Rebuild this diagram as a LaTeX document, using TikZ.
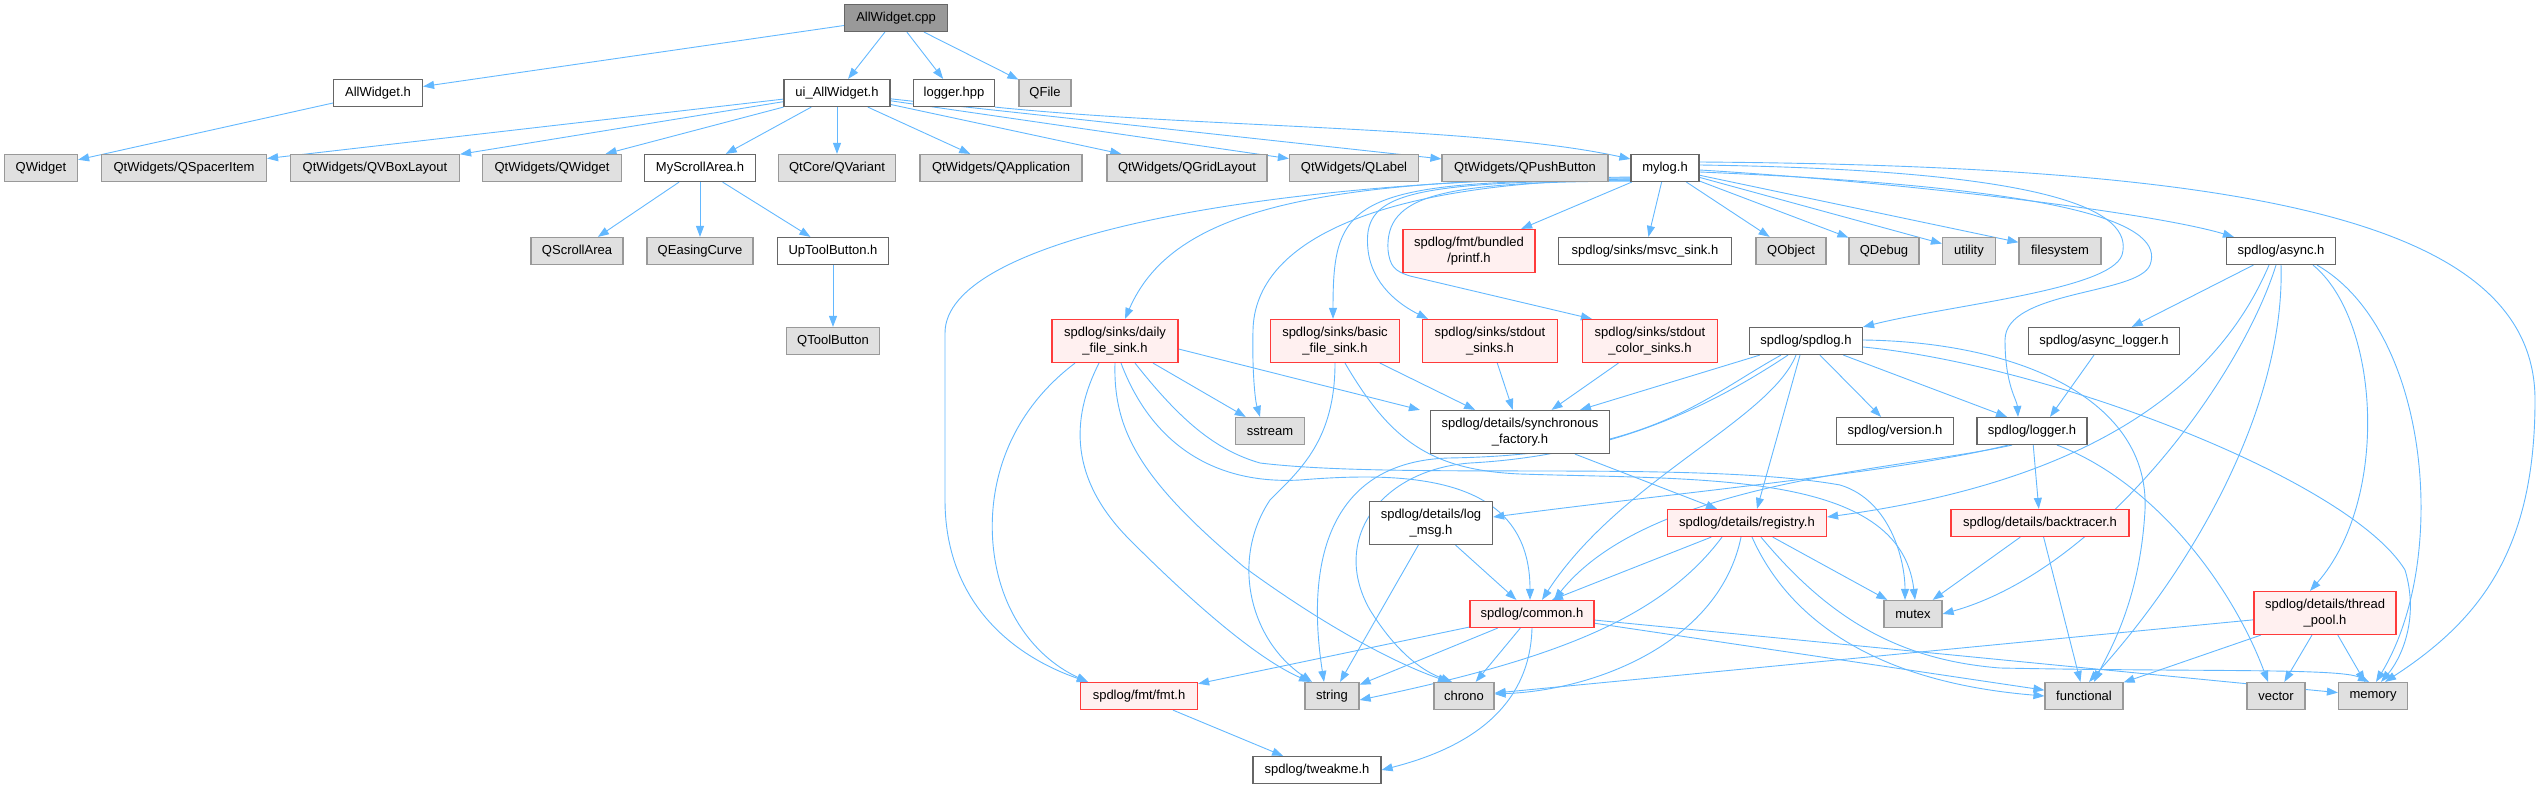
\documentclass[tikz,border=0pt]{standalone}
\usepackage{fontspec}
\setmainfont{Liberation Sans}
\usetikzlibrary{arrows.meta}
\definecolor{edgec}{HTML}{63B8FF}
\definecolor{wborder}{HTML}{666666}
\definecolor{gfill}{HTML}{E0E0E0}
\definecolor{gborder}{HTML}{999999}
\definecolor{rfill}{HTML}{FFF0F0}
\definecolor{rborder}{HTML}{FF3B3B}
\definecolor{mfill}{HTML}{999999}
\pgfdeclarelayer{bg}
\pgfsetlayers{bg,main}
\tikzset{
 nbox/.style={rectangle, inner sep=0pt, minimum height=27pt, align=center, font=\fontsize{13}{16}\selectfont, line width=1.2pt},
 wn/.style={nbox, fill=white, draw=wborder},
 gn/.style={nbox, fill=gfill, draw=gborder},
 rn/.style={nbox, fill=rfill, draw=rborder},
 mn/.style={nbox, fill=mfill, draw=wborder},
 tall/.style={minimum height=43pt},
 e/.style={draw=edgec, line width=0.9pt, -{Triangle[length=11pt,width=8pt]}},
}
\begin{document}
\begin{tikzpicture}[x=1pt,y=-1pt]
\useasboundingbox (0,0) rectangle (2540,789);
% row 0-1
\node[mn, minimum width=103pt] (cpp) at (896,18) {AllWidget.cpp};
\node[wn, minimum width=89pt] (aw) at (378,93) {AllWidget.h};
\node[wn, minimum width=106pt] (ui) at (837,93) {ui\_AllWidget.h};
\node[wn, minimum width=81pt] (lh) at (954,93) {logger.hpp};
\node[gn, minimum width=52pt] (qfile) at (1045,93) {QFile};
% row 2
\node[gn, minimum width=73pt] (qwidget) at (41,168) {QWidget};
\node[gn, minimum width=165pt] (qspacer) at (184,168) {QtWidgets/QSpacerItem};
\node[gn, minimum width=169pt] (qvbox) at (375,168) {QtWidgets/QVBoxLayout};
\node[gn, minimum width=139pt] (qtwidget) at (552,168) {QtWidgets/QWidget};
\node[wn, minimum width=111pt] (msa) at (700,168) {MyScrollArea.h};
\node[gn, minimum width=117pt] (qvariant) at (837,168) {QtCore/QVariant};
\node[gn, minimum width=162pt] (qapp) at (1001,168) {QtWidgets/QApplication};
\node[gn, minimum width=160pt] (qgrid) at (1187,168) {QtWidgets/QGridLayout};
\node[gn, minimum width=129pt] (qlabel) at (1354,168) {QtWidgets/QLabel};
\node[gn, minimum width=166pt] (qpush) at (1525,168) {QtWidgets/QPushButton};
\node[wn, minimum width=68pt] (mylog) at (1665,168) {mylog.h};
% row 3
\node[gn, minimum width=92pt] (qscroll) at (577,251) {QScrollArea};
\node[gn, minimum width=106pt] (qeasing) at (700,251) {QEasingCurve};
\node[wn, minimum width=111pt] (upt) at (833,251) {UpToolButton.h};
\node[rn, tall, minimum width=132pt] (printf) at (1469,251) {spdlog/fmt/bundled\\/printf.h};
\node[wn, minimum width=173pt] (msvc) at (1645,251) {spdlog/sinks/msvc\_sink.h};
\node[gn, minimum width=70pt] (qobject) at (1791,251) {QObject};
\node[gn, minimum width=70pt] (qdebug) at (1884,251) {QDebug};
\node[gn, minimum width=53pt] (utility) at (1969,251) {utility};
\node[gn, minimum width=82pt] (filesystem) at (2060,251) {filesystem};
\node[wn, minimum width=109pt] (async) at (2281,251) {spdlog/async.h};
% row 4
\node[gn, minimum width=93pt] (qtool) at (833,341) {QToolButton};
\node[rn, tall, minimum width=126pt] (daily) at (1115,341) {spdlog/sinks/daily\\\_file\_sink.h};
\node[rn, tall, minimum width=129pt] (basic) at (1335,341) {spdlog/sinks/basic\\\_file\_sink.h};
\node[rn, tall, minimum width=135pt] (stdout) at (1490,341) {spdlog/sinks/stdout\\\_sinks.h};
\node[rn, tall, minimum width=135pt] (stdoutc) at (1650,341) {spdlog/sinks/stdout\\\_color\_sinks.h};
\node[wn, minimum width=113pt] (spdlogh) at (1806,341) {spdlog/spdlog.h};
\node[wn, minimum width=151pt] (asynclog) at (2104,341) {spdlog/async\_logger.h};
% row 5
\node[gn, minimum width=69pt] (sstream) at (1270,431) {sstream};
\node[wn, tall, minimum width=179pt] (sync) at (1520,432) {spdlog/details/synchronous\\\_factory.h};
\node[wn, minimum width=117pt] (version) at (1895,431) {spdlog/version.h};
\node[wn, minimum width=110pt] (logger) at (2032,431) {spdlog/logger.h};
% row 6
\node[wn, tall, minimum width=123pt] (logmsg) at (1431,523) {spdlog/details/log\\\_msg.h};
\node[rn, minimum width=159pt] (registry) at (1747,523) {spdlog/details/registry.h};
\node[rn, minimum width=178pt] (backtracer) at (2040,523) {spdlog/details/backtracer.h};
% row 7
\node[rn, minimum width=124pt] (common) at (1532,614) {spdlog/common.h};
\node[gn, minimum width=58pt] (mutex) at (1913,614) {mutex};
\node[rn, tall, minimum width=142pt] (threadpool) at (2325,613) {spdlog/details/thread\\\_pool.h};
% row 8
\node[rn, minimum width=117pt] (fmt) at (1139,696) {spdlog/fmt/fmt.h};
\node[gn, minimum width=54pt] (string) at (1332,696) {string};
\node[gn, minimum width=60pt] (chrono) at (1464,696) {chrono};
\node[gn, minimum width=78pt] (functional) at (2084,696) {functional};
\node[gn, minimum width=58pt] (vector) at (2276,696) {vector};
\node[gn, minimum width=69pt] (memory) at (2373,696) {memory};
% row 9
\node[wn, minimum width=128pt] (tweakme) at (1317,770) {spdlog/tweakme.h};

\begin{pgfonlayer}{bg}
% AllWidget.cpp
\draw[e] (cpp) -- (aw);
\draw[e] (cpp) -- (ui);
\draw[e] (cpp) -- (lh);
\draw[e] (cpp) -- (qfile);
\draw[e] (aw) -- (qwidget);
% ui_AllWidget.h
\draw[e] (ui) -- (qspacer);
\draw[e] (ui) -- (qvbox);
\draw[e] (ui) -- (qtwidget);
\draw[e] (ui) -- (msa);
\draw[e] (ui) -- (qvariant);
\draw[e] (ui) -- (qapp);
\draw[e] (ui) -- (qgrid);
\draw[e] (ui) -- (qlabel);
\draw[e] (ui) -- (qpush);
% logger.hpp
\draw[e] (lh.south east) .. controls (1200,128) and (1480,126) .. ([yshift=9pt]mylog.west);
% MyScrollArea
\draw[e] (msa) -- (qscroll);
\draw[e] (msa) -- (qeasing);
\draw[e] (msa) -- (upt);
\draw[e] (upt) -- (qtool);
% mylog.h
\draw[e] (mylog) -- (printf);
\draw[e] (mylog) -- (msvc);
\draw[e] (mylog) -- (qobject);
\draw[e] (mylog) -- (qdebug);
\draw[e] (mylog) -- (utility);
\draw[e] (mylog) -- (filesystem);
\draw[e] ([yshift=-2pt]mylog.east) .. controls (1900,182) and (2150,212) .. ([xshift=8pt]async.north west);
\draw[e] ([yshift=6pt]mylog.east) .. controls (2250,166) and (2535,220) .. (2535,400) .. controls (2535,550) and (2480,620) .. ([xshift=12pt]memory.north);
\draw[e] ([yshift=3pt]mylog.east) .. controls (2050,170) and (2135,210) .. (2122,255) .. controls (2110,290) and (1950,305) .. (spdlogh.north east);
\draw[e] ([yshift=-4pt]mylog.east) .. controls (2080,188) and (2165,225) .. (2150,265) .. controls (2138,295) and (2005,290) .. (2005,340) .. controls (2005,385) and (2017,400) .. ([xshift=-14pt]logger.north);
\draw[e] ([yshift=4pt]mylog.south west) .. controls (1300,178) and (1170,215) .. ([xshift=10pt]daily.north);
\draw[e] ([yshift=5pt]mylog.south west) .. controls (1250,180) and (945,240) .. (945,333) -- (945,500) .. controls (945,600) and (1010,655) .. ([xshift=8pt]fmt.north west);
\draw[e] ([yshift=3pt]mylog.south west) .. controls (1380,182) and (1255,240) .. (1253,330) .. controls (1252,370) and (1255,400) .. ([xshift=-10pt]sstream.north);
\draw[e] ([yshift=2pt]mylog.south west) .. controls (1350,180) and (1333,200) .. ([xshift=-2pt]basic.north);
\draw[e] ([yshift=2pt]mylog.south west) .. controls (1400,182) and (1362,195) .. (1368,250) .. controls (1372,285) and (1400,305) .. ([xshift=6pt]stdout.north west);
\draw[e] ([yshift=1pt]mylog.south west) .. controls (1440,182) and (1385,195) .. (1388,250) .. controls (1390,266) and (1394,271) .. (1410,276) -- ([xshift=10pt]stdoutc.north west);
% daily_file_sink
\draw[e] ([xshift=-40pt]daily.south) .. controls (1000,420) and (985,500) .. (995,560) .. controls (1005,620) and (1040,660) .. ([xshift=8pt]fmt.north west);
\draw[e] ([xshift=-16pt]daily.south) .. controls (1070,420) and (1070,480) .. (1130,540) .. controls (1200,610) and (1260,660) .. ([xshift=-22pt]string.north);
\draw[e] (daily.south) .. controls (1113,430) and (1140,480) .. (1244,567) .. controls (1330,630) and (1400,665) .. ([xshift=-15pt]chrono.north);
\draw[e] ([xshift=6pt]daily.south) .. controls (1150,440) and (1210,485) .. (1300,480) .. controls (1420,470) and (1530,480) .. ([xshift=-2pt]common.north);
\draw[e] ([xshift=20pt]daily.south) .. controls (1180,420) and (1215,450) .. (1260,463) .. controls (1400,480) and (1700,460) .. (1840,485) .. controls (1890,500) and (1905,560) .. ([xshift=-8pt]mutex.north);
\draw[e] (daily) -- (sstream);
\draw[e] ([yshift=-8pt]daily.east) -- ([xshift=-10pt]sync.north west);
% basic_file_sink
\draw[e] (basic) -- (sync);
\draw[e] (basic.south) .. controls (1335,440) and (1300,470) .. (1270,500) .. controls (1230,560) and (1250,640) .. ([xshift=-20pt]string.north);
\draw[e] ([xshift=10pt]basic.south) .. controls (1390,440) and (1430,470) .. (1520,474) .. controls (1700,480) and (1900,470) .. ([xshift=2pt]mutex.north);
% stdout
\draw[e] (stdout) -- (sync);
\draw[e] (stdoutc) -- (sync);
% sync
\draw[e] ([xshift=55pt]sync.south) -- ([xshift=-30pt]registry.north);
% spdlog.h
\draw[e] (spdlogh) -- ([xshift=60pt]sync.north);
\draw[e] ([xshift=-25pt]spdlogh.south) .. controls (1700,400) and (1650,455) .. (1448,458) .. controls (1330,462) and (1305,560) .. ([xshift=-8pt]string.north);
\draw[e] ([xshift=-18pt]spdlogh.south) .. controls (1720,400) and (1620,455) .. (1470,463) .. controls (1380,470) and (1330,540) .. (1370,610) .. controls (1395,650) and (1420,670) .. ([xshift=-12pt]chrono.north);
\draw[e] ([xshift=-10pt]spdlogh.south) .. controls (1770,420) and (1620,480) .. ([xshift=10pt]common.north);
\draw[e] ([xshift=-6pt]spdlogh.south) -- ([xshift=10pt]registry.north);
\draw[e] (spdlogh) -- (version);
\draw[e] (spdlogh) -- ([xshift=-25pt]logger.north);
\draw[e] ([yshift=1pt]spdlogh.east) .. controls (2020,342) and (2150,400) .. (2145,510) .. controls (2140,600) and (2110,650) .. ([xshift=10pt]functional.north);
\draw[e] ([yshift=-6pt]spdlogh.east) .. controls (2050,365) and (2350,480) .. (2405,570) .. controls (2420,620) and (2400,660) .. ([xshift=8pt]memory.north);
% logger.h
\draw[e] ([xshift=-20pt]logger.south) .. controls (1900,470) and (1650,480) .. ([xshift=22pt]common.north);
\draw[e] ([xshift=-24pt]logger.south) .. controls (1900,472) and (1700,490) .. ([yshift=6pt]logmsg.east);
\draw[e] (logger) -- (backtracer);
\draw[e] ([xshift=25pt]logger.south) .. controls (2150,480) and (2230,580) .. ([xshift=-8pt]vector.north);
% async.h
\draw[e] (async) -- (asynclog);
\draw[e] ([xshift=-12pt]async.south) .. controls (2220,380) and (2100,480) .. ([yshift=6pt]registry.east);
\draw[e] ([xshift=-5pt]async.south) .. controls (2240,380) and (2100,570) .. (mutex.east);
\draw[e] (async.south) .. controls (2285,400) and (2200,560) .. ([xshift=5pt]functional.north);
\draw[e] ([xshift=32pt]async.south) .. controls (2380,320) and (2390,500) .. ([xshift=-15pt]threadpool.north);
\draw[e] ([xshift=36pt]async.south) .. controls (2430,330) and (2450,560) .. ([xshift=3pt]memory.north);
\draw[e] (asynclog) -- ([xshift=18pt]logger.north);
% registry
\draw[e] (registry) -- ([xshift=20pt]common.north);
\draw[e] ([xshift=-25pt]registry.south) .. controls (1660,620) and (1550,660) .. ([yshift=-4pt]string.east);
\draw[e] ([xshift=-6pt]registry.south) .. controls (1720,640) and (1600,690) .. ([yshift=2pt]chrono.east);
\draw[e] ([xshift=5pt]registry.south) .. controls (1780,600) and (1850,680) .. (functional.west);
\draw[e] ([xshift=14pt]registry.south) .. controls (1830,620) and (1900,660) .. (2000,668) .. controls (2200,672) and (2340,668) .. ([xshift=-4pt]memory.north);
\draw[e] (registry) -- (mutex);
% log_msg
\draw[e] (logmsg) -- (common);
\draw[e] (logmsg) -- (string);
% backtracer
\draw[e] (backtracer) -- (mutex);
\draw[e] (backtracer) -- (functional);
% common
\draw[e] (common) -- (fmt);
\draw[e] (common) -- (string);
\draw[e] (common) -- (chrono);
\draw[e] (common.south) .. controls (1530,700) and (1480,745) .. (tweakme.east);
\draw[e] (common) -- (functional);
\draw[e] (common) -- (memory);
% thread_pool
\draw[e] (threadpool) -- (chrono);
\draw[e] (threadpool) -- (functional);
\draw[e] (threadpool) -- (vector);
\draw[e] (threadpool) -- (memory);
% fmt
\draw[e] (fmt) -- (tweakme);
\end{pgfonlayer}
\end{tikzpicture}
\end{document}
